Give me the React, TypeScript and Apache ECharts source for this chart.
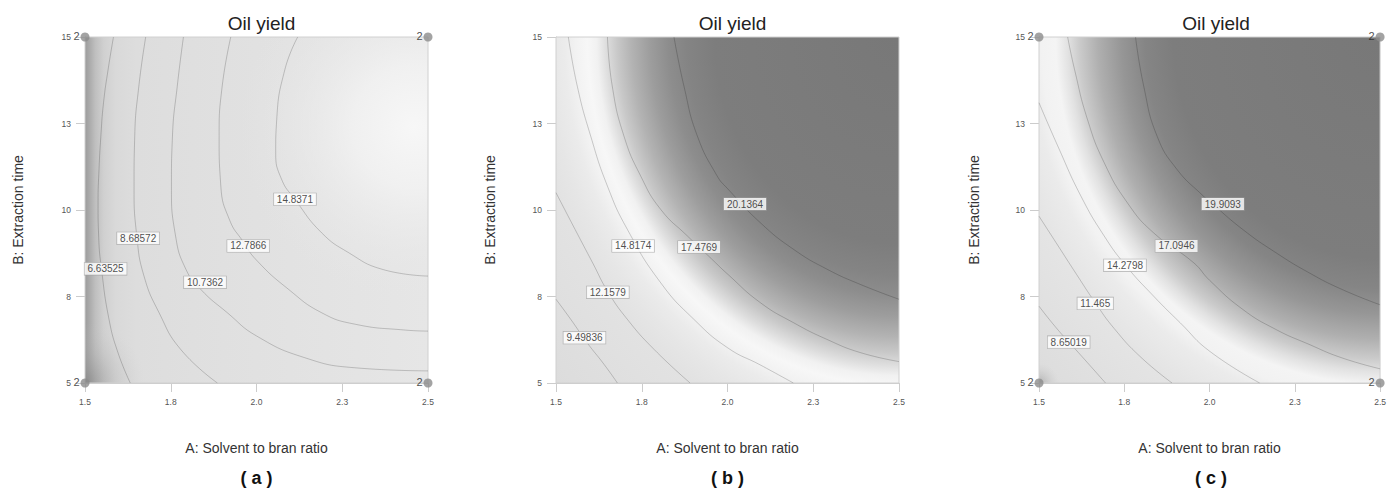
import React, { useEffect, useRef } from 'react';
import * as echarts from 'echarts';

// ---------- axes ----------
const A_RANGE = [1.5, 2.5];
const B_RANGE = [5, 15];
const X_TICKS = [1.5, 1.75, 2.0, 2.25, 2.5];
const X_TICK_LABELS = ['1.5', '1.8', '2.0', '2.3', '2.5'];
const Y_TICKS = [5, 7.5, 10, 12.5, 15];
const Y_TICK_LABELS = ['5', '8', '10', '13', '15'];

const TITLE = 'Oil yield';
const X_NAME = 'A: Solvent to bran ratio';
const Y_NAME = 'B: Extraction time';
const PANEL_TAGS = ['( a )', '( b )', '( c )'];

// ---------- panel (a) ----------
const LEVELS_A = ['6.63525', '8.68572', '10.7362', '12.7866', '14.8371'];
const CONTOURS_A = [
  [[1.583, 15], [1.568, 14.1], [1.554, 13.1], [1.546, 12.1], [1.541, 11.2], [1.538, 10.2], [1.540, 9.2], [1.548, 8.3], [1.57, 6.84], [1.596, 5.88], [1.632, 5]],
  [[1.677, 15], [1.657, 13.58], [1.645, 12.14], [1.643, 10.69], [1.651, 9.25], [1.672, 8.09], [1.716, 7.03], [1.779, 5.97], [1.886, 5]],
  [[1.787, 15], [1.769, 13.58], [1.755, 12.14], [1.752, 10.69], [1.764, 9.25], [1.794, 8.29], [1.837, 7.71], [1.915, 7.03], [2.0, 6.36], [2.141, 5.73], [2.287, 5.44], [2.5, 5.35]],
  [[1.925, 15], [1.9, 13.58], [1.891, 12.14], [1.896, 10.69], [1.922, 9.7], [1.96, 9.1], [2.0, 8.55], [2.093, 7.71], [2.19, 7.03], [2.287, 6.7], [2.433, 6.53], [2.5, 6.5]],
  [[2.12, 15], [2.083, 14.07], [2.059, 12.62], [2.056, 11.66], [2.073, 10.89], [2.112, 10.31], [2.19, 9.34], [2.268, 8.77], [2.365, 8.29], [2.5, 8.09]],
];
const LABEL_POS_A = [[1.56, 8.3], [1.655, 9.18], [1.85, 7.91], [1.976, 8.96], [2.112, 10.31]];

// ---------- panel (b) ----------
const LEVELS_B = ['9.49836', '12.1579', '14.8174', '17.4769', '20.1364'];
const CONTOURS_B = [
  [[1.5, 7.42], [1.543, 6.84], [1.591, 6.16], [1.64, 5.54], [1.679, 5]],
  [[1.5, 10.5], [1.555, 9.45], [1.608, 8.45], [1.65, 7.66], [1.708, 6.84], [1.786, 5.97], [1.891, 5]],
  [[1.536, 15], [1.562, 13.58], [1.601, 12.14], [1.65, 10.69], [1.708, 9.44], [1.805, 7.9], [1.902, 6.84], [2.0, 6.02], [2.096, 5.52], [2.192, 5]],
  [[1.65, 15], [1.664, 13.58], [1.698, 12.14], [1.747, 10.98], [1.805, 10.02], [1.883, 9.25], [1.95, 8.62], [2.0, 8.15], [2.096, 7.32], [2.193, 6.74], [2.29, 6.26], [2.387, 5.88], [2.5, 5.62]],
  [[1.844, 15], [1.873, 13.58], [1.912, 12.14], [1.97, 10.98], [2.0, 10.62], [2.096, 9.63], [2.193, 8.86], [2.29, 8.29], [2.387, 7.85], [2.5, 7.42]],
];
const LABEL_POS_B = [[1.583, 6.31], [1.651, 7.62], [1.725, 8.96], [1.917, 8.93], [2.051, 10.17]];

// ---------- panel (c) ----------
const LEVELS_C = ['8.65019', '11.465', '14.2798', '17.0946', '19.9093'];
const CONTOURS_C = [
  [[1.5, 7.22], [1.55, 6.6], [1.6, 6.05], [1.65, 5.5], [1.695, 5]],
  [[1.5, 9.82], [1.555, 8.98], [1.61, 8.14], [1.665, 7.32], [1.72, 6.58], [1.797, 5.76], [1.89, 5]],
  [[1.5, 13.1], [1.555, 11.85], [1.623, 10.4], [1.691, 9.25], [1.754, 8.4], [1.836, 7.51], [1.914, 6.74], [2.0, 5.92], [2.147, 5]],
  [[1.584, 15], [1.604, 14.07], [1.642, 12.62], [1.691, 11.37], [1.759, 10.21], [1.836, 9.34], [1.953, 8.48], [2.0, 7.97], [2.097, 7.13], [2.194, 6.55], [2.291, 6.12], [2.387, 5.73], [2.5, 5.41]],
  [[1.783, 15], [1.807, 13.58], [1.846, 12.14], [1.904, 11.18], [1.982, 10.4], [2.0, 10.25], [2.097, 9.44], [2.194, 8.77], [2.291, 8.19], [2.387, 7.71], [2.5, 7.26]],
];
const LABEL_POS_C = [[1.587, 6.18], [1.665, 7.3], [1.752, 8.4], [1.903, 8.96], [2.039, 10.17]];

// ---------- design points (panels a and c) ----------
const DESIGN_POINTS = [[1.5, 15], [2.5, 15], [1.5, 5], [2.5, 5]];
const DESIGN_REPLICATES = [2, 2, 2, 2];

const PANELS = [
  { levels: LEVELS_A, contours: CONTOURS_A, labels: LABEL_POS_A, design: true },
  { levels: LEVELS_B, contours: CONTOURS_B, labels: LABEL_POS_B, design: false },
  { levels: LEVELS_C, contours: CONTOURS_C, labels: LABEL_POS_C, design: true },
];

// ---------- layout / style ----------
const FONT = '"Liberation Sans", Arial, sans-serif';
const GRIDS = [
  { left: 85, width: 343, yGap: 60 },
  { left: 556, width: 343, yGap: 59 },
  { left: 1039, width: 344, yGap: 58 },
];
const GRID_TOP = 37;
const GRID_H = 346;

const SHADE_B = {
  k: 1.12,
  stops: [
    [0, '#787878'], [0.4, '#7d7d7d'], [0.46, '#848484'], [0.5, '#8d8d8d'], [0.54, '#9d9d9d'],
    [0.58, '#b3b3b3'], [0.61, '#c8c8c8'], [0.635, '#dedede'], [0.655, '#f1f1f1'], [0.675, '#f7f7f7'],
    [0.7, '#f2f2f2'], [0.725, '#ebebeb'], [0.76, '#e6e6e6'], [0.8, '#e2e2e2'], [0.9, '#dfdfdf'], [1, '#dcdcdc'],
  ],
};
const SHADE_C = {
  k: 1.07,
  stops: [
    [0, '#787878'], [0.44, '#7d7d7d'], [0.5, '#858585'], [0.55, '#969696'], [0.6, '#afafaf'],
    [0.64, '#cbcbcb'], [0.665, '#e2e2e2'], [0.69, '#f4f4f4'], [0.72, '#f2f2f2'], [0.745, '#ebebeb'],
    [0.81, '#e4e4e4'], [0.9, '#e0e0e0'], [1, '#dcdcdc'],
  ],
};
const SHADE_A_STOPS = [
  [0, '#9c9c9c'], [0.012, '#a9a9a9'], [0.03, '#bfbfbf'], [0.055, '#d0d0d0'], [0.09, '#d9d9d9'],
  [0.15, '#dddddd'], [0.4, '#e0e0e0'], [0.7, '#e3e3e3'], [1, '#e6e6e6'],
];

function toStops(arr: any[]) {
  return arr.map((s) => ({ offset: s[0], color: s[1] }));
}

function bgRenderer(i: number) {
  return (params: any, api: any) => {
    const tl = api.coord([A_RANGE[0], B_RANGE[1]]);
    const br = api.coord([A_RANGE[1], B_RANGE[0]]);
    const x0 = tl[0];
    const y0 = tl[1];
    const w = br[0] - x0;
    const h = br[1] - y0;
    const children: any[] = [];
    const full = { x: x0, y: y0, width: w, height: h };
    if (i === 0) {
      children.push({
        type: 'rect',
        shape: full,
        style: { fill: new echarts.graphic.LinearGradient(x0, 0, x0 + w, 0, toStops(SHADE_A_STOPS), true) },
      });
      const g = api.coord([2.46, 12.4]);
      children.push({
        type: 'rect',
        shape: full,
        style: {
          fill: new echarts.graphic.RadialGradient(g[0], g[1], 175, [
            { offset: 0, color: 'rgba(247,247,247,1)' },
            { offset: 0.35, color: 'rgba(243,243,243,0.8)' },
            { offset: 0.7, color: 'rgba(236,236,236,0.35)' },
            { offset: 1, color: 'rgba(230,230,230,0)' },
          ], true),
        },
      });
      children.push({
        type: 'rect',
        shape: full,
        style: {
          fill: new echarts.graphic.RadialGradient(x0, y0 + h, 60, [
            { offset: 0, color: 'rgba(125,125,125,0.6)' },
            { offset: 0.5, color: 'rgba(160,160,160,0.25)' },
            { offset: 1, color: 'rgba(200,200,200,0)' },
          ], true),
        },
      });
    } else {
      const sh = i === 1 ? SHADE_B : SHADE_C;
      const k = sh.k;
      const R = Math.sqrt(w * w + (h / k) * (h / k));
      children.push({
        type: 'rect',
        x: x0 + w,
        y: y0,
        scaleY: k,
        shape: { x: -w, y: 0, width: w, height: h / k },
        style: { fill: new echarts.graphic.RadialGradient(0, 0, R, toStops(sh.stops), true) },
      });
      if (i === 2) {
        children.push({
          type: 'rect',
          shape: full,
          style: {
            fill: new echarts.graphic.RadialGradient(x0, y0 + h, 20, [
              { offset: 0, color: 'rgba(150,150,150,0.6)' },
              { offset: 1, color: 'rgba(200,200,200,0)' },
            ], true),
          },
        });
      }
    }
    children.push({
      type: 'rect',
      shape: full,
      style: { fill: 'none', stroke: '#d0d0d0', lineWidth: 1 },
    });
    return { type: 'group', children };
  };
}

function tickFmt(ticks: number[], labels: string[]) {
  return (v: number) => {
    const idx = ticks.findIndex((t) => Math.abs(t - v) < 1e-6);
    return idx >= 0 ? labels[idx] : '';
  };
}

function buildOption() {
  const grid = GRIDS.map((g) => ({ left: g.left, top: GRID_TOP, width: g.width, height: GRID_H, containLabel: false }));
  const axisColor = '#cccccc';
  const xAxis = GRIDS.map((g, i) => ({
    gridIndex: i,
    type: 'value',
    min: A_RANGE[0],
    max: A_RANGE[1],
    interval: 0.25,
    name: X_NAME,
    nameLocation: 'middle',
    nameGap: 58,
    nameTextStyle: { fontSize: 14, color: '#333', fontFamily: FONT },
    axisLine: { show: true, lineStyle: { color: axisColor } },
    axisTick: { show: true, length: 9, lineStyle: { color: axisColor } },
    axisLabel: { fontSize: 8.5, color: '#555', margin: 14, fontFamily: FONT, formatter: tickFmt(X_TICKS, X_TICK_LABELS) },
    splitLine: { show: false },
  }));
  const yAxis = GRIDS.map((g, i) => ({
    gridIndex: i,
    type: 'value',
    min: B_RANGE[0],
    max: B_RANGE[1],
    interval: 2.5,
    name: Y_NAME,
    nameLocation: 'middle',
    nameGap: g.yGap,
    nameTextStyle: { fontSize: 14, color: '#333', fontFamily: FONT },
    axisLine: { show: true, lineStyle: { color: axisColor } },
    axisTick: { show: true, length: 9, lineStyle: { color: axisColor } },
    axisLabel: { fontSize: 8.5, color: '#555', margin: 14, fontFamily: FONT, formatter: tickFmt(Y_TICKS, Y_TICK_LABELS) },
    splitLine: { show: false },
  }));

  const series: any[] = [];
  PANELS.forEach((p, i) => {
    series.push({
      type: 'custom',
      xAxisIndex: i,
      yAxisIndex: i,
      data: [[A_RANGE[0], B_RANGE[1]]],
      renderItem: bgRenderer(i),
      clip: false,
      silent: true,
      z: 1,
    });
    p.contours.forEach((line) => {
      series.push({
        type: 'line',
        xAxisIndex: i,
        yAxisIndex: i,
        data: line,
        smooth: 0.5,
        symbol: 'none',
        showSymbol: false,
        silent: true,
        clip: true,
        lineStyle: { color: 'rgba(0,0,0,0.24)', width: 0.8 },
        z: 3,
      });
    });
    series.push({
      type: 'scatter',
      xAxisIndex: i,
      yAxisIndex: i,
      data: p.labels.map((pos, k) => ({ value: pos, name: p.levels[k] })),
      symbol: 'rect',
      symbolSize: 0.1,
      itemStyle: { color: 'rgba(0,0,0,0)' },
      silent: true,
      clip: false,
      z: 4,
      label: {
        show: true,
        position: 'inside',
        formatter: '{b}',
        fontSize: 10,
        lineHeight: 11,
        color: '#222',
        fontFamily: FONT,
        backgroundColor: '#ffffff',
        borderColor: '#a0a0a0',
        borderWidth: 0.6,
        padding: [1, 3, 0, 3],
      },
    });
    if (p.design) {
      series.push({
        type: 'scatter',
        xAxisIndex: i,
        yAxisIndex: i,
        data: DESIGN_POINTS.map((pt, k) => ({ value: pt, name: String(DESIGN_REPLICATES[k]) })),
        symbol: 'circle',
        symbolSize: 9,
        itemStyle: { color: '#8c8c8c' },
        silent: true,
        clip: false,
        z: 5,
        label: {
          show: true,
          position: 'left',
          distance: 1,
          offset: [0, -1.5],
          formatter: '{b}',
          fontSize: 11,
          color: '#222',
          fontFamily: FONT,
        },
      });
    }
  });

  const title = GRIDS.map((g) => ({
    text: TITLE,
    left: g.left + g.width / 2,
    top: 9,
    textAlign: 'center',
    textStyle: { fontSize: 19, fontWeight: 'normal', color: '#222', fontFamily: FONT },
  }));

  const graphic = GRIDS.map((g, i) => ({
    type: 'text',
    x: g.left + g.width / 2,
    y: 478,
    style: {
      text: PANEL_TAGS[i],
      align: 'center',
      verticalAlign: 'middle',
      textAlign: 'center',
      textVerticalAlign: 'middle',
      fontSize: 18,
      fontWeight: 'bold',
      fontFamily: FONT,
      fill: '#111',
    },
  }));

  return {
    animation: false,
    backgroundColor: '#ffffff',
    textStyle: { fontFamily: FONT },
    title,
    grid,
    xAxis,
    yAxis,
    series,
    graphic,
  };
}

export default function App() {
  const ref = useRef<HTMLDivElement>(null);
  useEffect(() => {
    if (!ref.current) return;
    const chart = echarts.init(ref.current, null, { renderer: 'svg' });
    chart.setOption(buildOption() as any);
    return () => chart.dispose();
  }, []);
  return (
    <div
      ref={ref}
      style={{ position: 'fixed', left: 0, top: 0, width: 1389, height: 489, background: '#fff' }}
    />
  );
}
